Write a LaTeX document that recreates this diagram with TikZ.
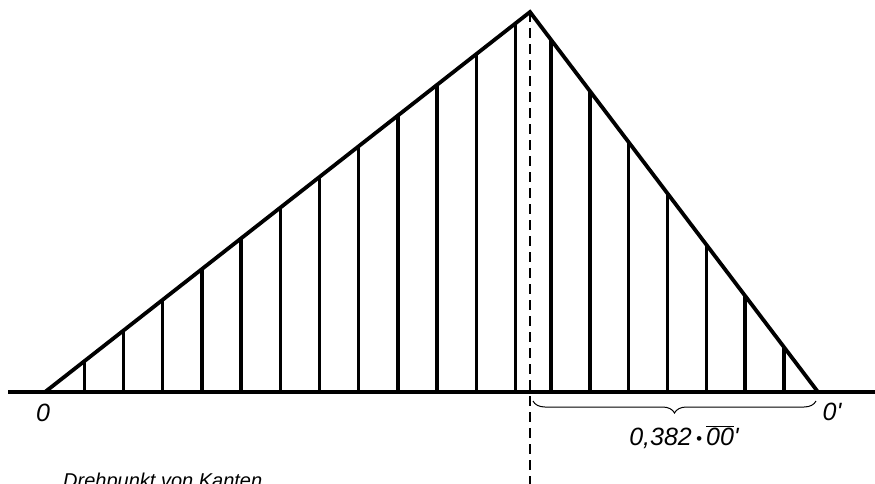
\documentclass[tikz,border=0pt]{standalone}
\usepackage{fontspec}
\newfontfamily\lblfont{Liberation Sans}
\usetikzlibrary{decorations.pathreplacing}
\begin{document}
\begin{tikzpicture}[x=1pt,y=-1pt,
  edge/.style={line width=3.8pt, line join=miter},
  rib/.style={line width=3.4pt},
  axisline/.style={line width=3.6pt},
  dashline/.style={line width=2pt, dash pattern=on 10pt off 6pt},
  lbl/.style={font=\lblfont\itshape\fontsize{25}{28}\selectfont, inner sep=0pt},
  bracestyle/.style={line width=1pt, decorate, decoration={brace, mirror, amplitude=12pt}}]
\useasboundingbox (0,0) rectangle (875,483);
\clip (0,0) rectangle (875,483);
\coordinate (L) at (8,392);
\coordinate (R) at (875,392);
\coordinate (O) at (45,392);
\coordinate (A) at (530,12);
\coordinate (Op) at (818,392);
\coordinate (D) at (530,490);
% base line
\draw[axisline] (L) -- (R);
% left ribs
\foreach \k in {1,...,12}{
  \pgfmathsetmacro{\xx}{45+39.2*\k}
  \pgfmathsetmacro{\yy}{392-0.783505*(\xx-45)}
  \coordinate (lb\k) at (\xx,392);
  \coordinate (lt\k) at (\xx,\yy);
  \draw[rib] (lb\k) -- (lt\k);
}
% right ribs
\foreach \k in {0,...,6}{
  \pgfmathsetmacro{\xx}{551+38.8*\k}
  \pgfmathsetmacro{\yy}{12+1.319444*(\xx-530)}
  \coordinate (rb\k) at (\xx,392);
  \coordinate (rt\k) at (\xx,\yy);
  \draw[rib] (rb\k) -- (rt\k);
}
% triangle outline
\draw[edge] (O) -- (A) -- (Op);
% dashed axis
\draw[dashline] (A) -- (D);
% brace
\coordinate (bs) at (533,401);
\coordinate (be) at (816,401);
\draw[bracestyle] (bs) -- (be);
% labels
\node[lbl] (l0) at (43,413) {0};
\node[lbl] (l1) at (832,412) {0'};
\node[lbl] (l2) at (684,437) {0,382\,\raisebox{1pt}{\fontsize{17}{17}\selectfont •}\,$\overline{\hbox{00}}$'};
\node[lbl, font=\lblfont\itshape\fontsize{20}{24}\selectfont, anchor=base west] (l3) at (63,487) {Drehpunkt von Kanten};
\end{tikzpicture}
\end{document}
